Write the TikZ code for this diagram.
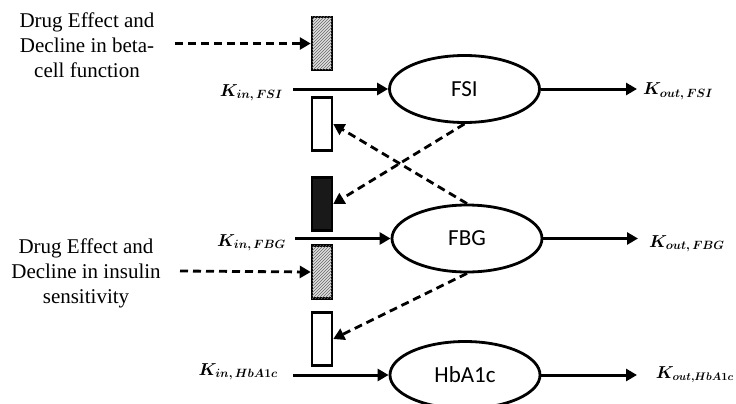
\documentclass[tikz,border=0pt]{standalone}
\usepackage{fontspec}
\usepackage{amsmath}
\usepackage{bm}
\usetikzlibrary{arrows.meta,patterns,shapes.geometric}
\newfontfamily\serifF{Liberation Serif}
\newfontfamily\calF{Carlito}
\tikzset{
  arr/.style={line width=3pt,-{Triangle[length=11pt,width=12pt]}},
  darr/.style={line width=2.8pt,dash pattern=on 8pt off 5pt,-{Triangle[length=11pt,width=12pt]}},
  state/.style={ellipse,draw,line width=2.8pt,minimum width=150pt,minimum height=67pt,inner sep=0pt,font=\calF\fontsize{23}{26}\selectfont},
  bx/.style={rectangle,draw,line width=2.5pt,minimum width=20pt,minimum height=53pt,inner sep=0pt},
  hatch/.style={bx,fill=gray!25,postaction={pattern=north east lines,pattern color=gray!80!black}},
  blk/.style={bx,fill=black!90},
  note/.style={align=center,font=\serifF\fontsize{21}{25}\selectfont},
  klab/.style={font=\fontsize{17}{20}\selectfont,inner sep=0pt}
}
\begin{document}
\begin{tikzpicture}[x=1pt,y=-1pt]
\useasboundingbox (0,0) rectangle (736,404);
% texts
\node[note] (t1) at (87,45) {Drug Effect and\\Decline in beta-\\cell function};
\node[note] (t2) at (86,273) {Drug Effect and\\Decline in insulin\\sensitivity};
% states
\node[state] (fsi) at (464.5,89) {FSI};
\node[state] (fbg) at (467,238.5) {FBG};
\node[state] (hba) at (465,375) {HbA1c};
% boxes
\node[hatch] (h1) at (322,43.5) {};
\node[bx] (w1) at (322,124) {};
\node[blk] (bk) at (322,204) {};
\node[hatch] (h2) at (322,272) {};
\node[bx] (w2) at (322,339) {};
% labels
\node[klab,anchor=base east] (kin1) at (283,96) {$\bm{K_{in,\,FSI}}$};
\node[klab,anchor=base east] (kin2) at (286,246) {$\bm{K_{in,\,FBG}}$};
\node[klab,anchor=base east] (kin3) at (278,375) {$\bm{K_{in,\,HbA1c}}$};
\node[klab,anchor=base west] (kout1) at (643,95) {$\bm{K_{out,\,FSI}}$};
\node[klab,anchor=base west] (kout2) at (649,247) {$\bm{K_{out,\,FBG}}$};
\node[klab,anchor=base east,font=\fontsize{16}{19}\selectfont] (kout3) at (734,378) {$\bm{K_{out,HbA1c}}$};
% coordinates
\coordinate (s1) at (175,43.5);
\coordinate (s2) at (180,271);
\coordinate (i1) at (293,89);
\coordinate (i2) at (295,238.5);
\coordinate (i3) at (293,375);
\coordinate (o1) at (637,89);
\coordinate (o2) at (638,238.5);
\coordinate (o3) at (637,375);
% connectors
\draw[darr] (s1) -- (h1.west);
\draw[darr] (s2) -- (h2.west);
\draw[arr] (i1) -- (fsi.west);
\draw[arr] (i2) -- (fbg.west);
\draw[arr] (i3) -- (hba.west);
\draw[arr] (fsi.east) -- (o1);
\draw[arr] (fbg.east) -- (o2);
\draw[arr] (hba.east) -- (o3);
\draw[darr] (fsi.south) -- (bk.east);
\draw[darr] (fbg.north) -- (w1.east);
\draw[darr] (fbg.south) -- (w2.east);
\end{tikzpicture}
\end{document}
